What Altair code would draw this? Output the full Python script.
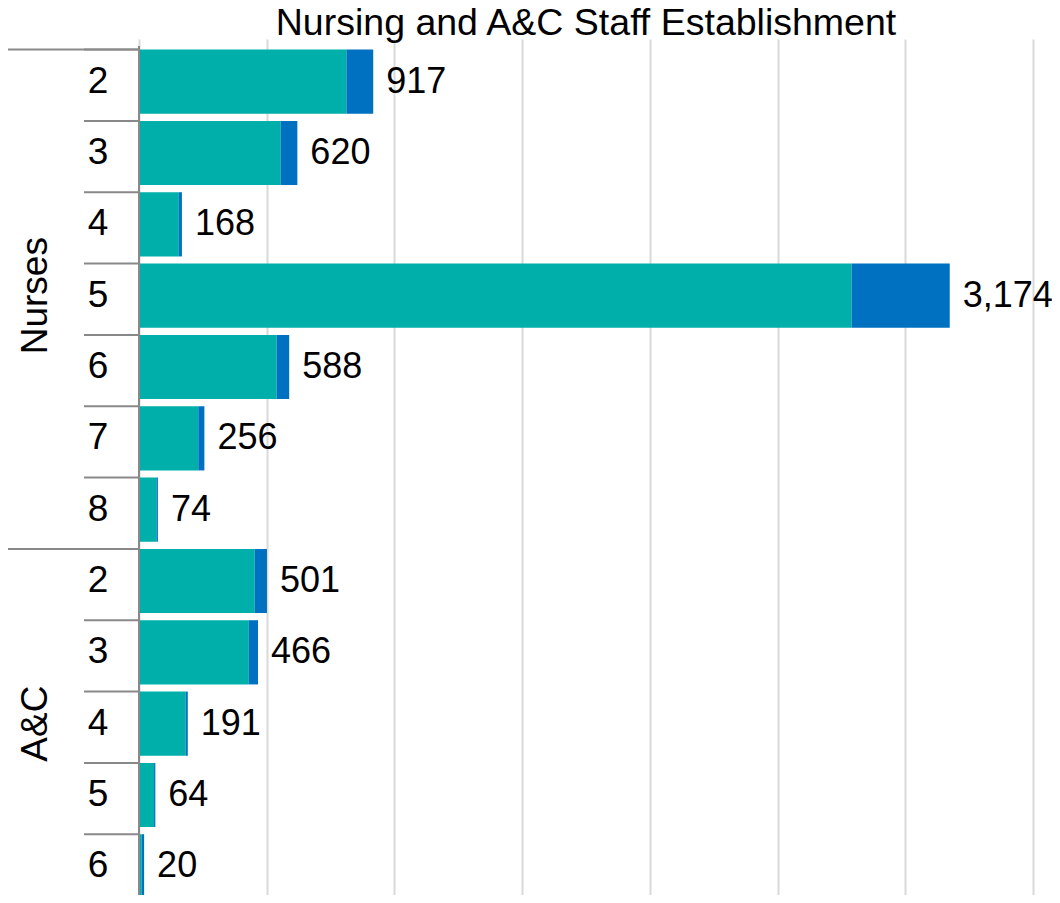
import altair as alt
import pandas as pd

groups = ["Nurses"] * 7 + ["A&C"] * 5
bands = ["2", "3", "4", "5", "6", "7", "8", "2", "3", "4", "5", "6"]
teal_vals = [812, 555, 156, 2790, 539, 232, 68, 453, 430, 183, 59, 11]
blue_vals = [105, 65, 12, 384, 49, 24, 6, 48, 36, 8, 5, 9]
totals = [917, 620, 168, 3174, 588, 256, 74, 501, 466, 191, 64, 20]
series_names = ["Funded", "Additional"]
colors = ["#00AFA9", "#0070C0"]
x_ticks = [0, 500, 1000, 1500, 2000, 2500, 3000, 3500]

FONT = "Liberation Sans"
keys = [f"{g}|{b}" for g, b in zip(groups, bands)]

rows = pd.DataFrame({"key": keys, "group": groups, "band": bands, "total": totals})
rows["first"] = [i == 0 or groups[i] != groups[i - 1] for i in range(len(groups))]

long_rows = []
for i, k in enumerate(keys):
    long_rows.append({"key": k, "series": series_names[0], "value": teal_vals[i], "order": 0})
    long_rows.append({"key": k, "series": series_names[1], "value": blue_vals[i], "order": 1})
bars_df = pd.DataFrame(long_rows)

# group label sits on the middle row of each group
grp_labels = []
for g in dict.fromkeys(groups):
    idx = [i for i, gg in enumerate(groups) if gg == g]
    grp_labels.append({"group": g, "key": keys[idx[len(idx) // 2]]})
grp_df = pd.DataFrame(grp_labels)

# the band scale runs a little past the visible view, so the last row is cut off at the page edge
yscale = alt.Scale(domain=keys, paddingInner=0.1, paddingOuter=0.05, range=[0, 856])
Y = alt.Y("key:N", scale=yscale, axis=None, sort=keys)

bars = alt.Chart(bars_df).mark_bar().encode(
    x=alt.X("value:Q", stack="zero",
            scale=alt.Scale(domain=[0, 3500], nice=False),
            axis=alt.Axis(values=x_ticks, grid=True, gridColor="#d9d9d9", gridWidth=2,
                          labels=False, ticks=False, domain=False, title=None)),
    y=Y,
    color=alt.Color("series:N", scale=alt.Scale(domain=series_names, range=colors), legend=None),
    order=alt.Order("order:Q"),
)

totals_text = alt.Chart(rows).mark_text(
    align="left", baseline="middle", dx=13, fontSize=36, font=FONT, color="#000000"
).encode(
    x="total:Q", y=Y, text=alt.Text("total:Q", format=",.0f")
)

band_text = alt.Chart(rows).mark_text(
    align="center", baseline="middle", fontSize=37, font=FONT, color="#000000"
).encode(
    x=alt.value(-41), y=Y, text="band:N"
)

group_text = alt.Chart(grp_df).mark_text(
    align="center", baseline="middle", angle=270, fontSize=37, font=FONT, color="#000000"
).encode(
    x=alt.value(-103), y=Y, text="group:N"
)

Yb = alt.Y("key:N", scale=yscale, axis=None, sort=keys, bandPosition=0)
short_rules = alt.Chart(rows).mark_rule(color="#898989", strokeWidth=2).encode(
    x=alt.value(-55), x2=alt.value(0), y=Yb
)
long_rules = alt.Chart(rows).transform_filter("datum.first").mark_rule(
    color="#898989", strokeWidth=2
).encode(
    x=alt.value(-131), x2=alt.value(0), y=Yb
)
axis_line = alt.Chart(rows).mark_rule(color="#898989", strokeWidth=2).encode(
    x=alt.value(0), y=alt.value(0), y2=alt.value(870)
)

chart = alt.layer(bars, totals_text, band_text, group_text, short_rules, long_rules, axis_line).properties(
    width=894,
    height=849,
    title=alt.TitleParams("Nursing and A&C Staff Establishment", fontSize=37.5, font=FONT,
                          fontWeight="normal", color="#000000", anchor="middle", offset=3),
    autosize=alt.AutoSizeParams(type="none"),
    padding={"left": 131, "top": 38, "right": 19, "bottom": 0},
).configure_view(stroke=None)

chart.save("out.html", embed_options={"renderer": "svg", "actions": False})
